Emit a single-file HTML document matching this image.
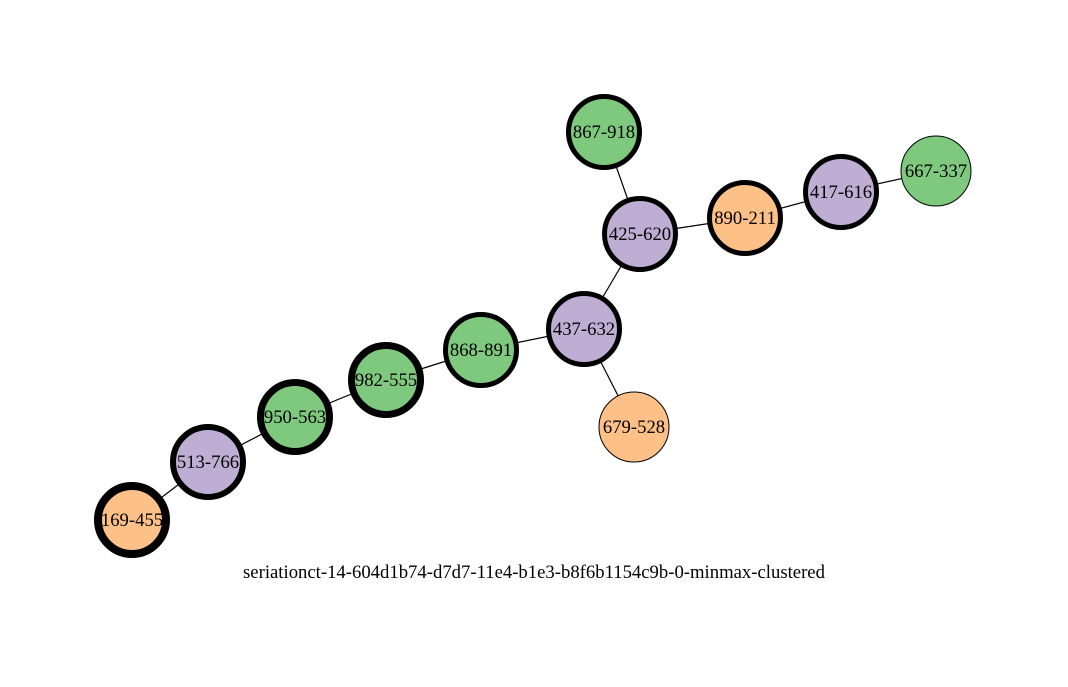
<!DOCTYPE html>
<html><head><meta charset="utf-8"><style>
html,body{margin:0;padding:0;background:#fff;}
svg text{font-family:"Liberation Serif",serif;font-size:18.7px;}
</style></head><body>
<svg id="chart" width="1068" height="682" viewBox="0 0 1068 682" xmlns="http://www.w3.org/2000/svg">
<g id="edges"></g><g id="nodes"></g>
<text x="534" y="578" text-anchor="middle">seriationct-14-604d1b74-d7d7-11e4-b1e3-b8f6b1154c9b-0-minmax-clustered</text>
</svg>
<script>
const nodeIds = ["867-918","425-620","890-211","417-616","667-337","437-632","679-528","868-891","982-555","950-563","513-766","169-455"];
const nodeX = [604,640,745,841,936,584,634,481,386,295,208,132];
const nodeY = [132,234,218,192,171,329,427,350,380,417,462,520];
const nodeGroup = ["g","p","o","p","g","p","o","g","g","g","p","o"];
const nodeStroke = [5,5,5,5,1,5,1,5,7,7,6,8];
const edgeFrom = ["867-918","425-620","890-211","417-616","425-620","437-632","437-632","868-891","982-555","950-563","513-766"];
const edgeTo = ["425-620","890-211","417-616","667-337","437-632","679-528","868-891","982-555","950-563","513-766","169-455"];
const colors = {g:"#7fc97f",p:"#beaed4",o:"#fdc086"};
const NS="http://www.w3.org/2000/svg";
const eg=document.getElementById('edges'), ng=document.getElementById('nodes');
edgeFrom.forEach((f,i)=>{
  const a=nodeIds.indexOf(f), b=nodeIds.indexOf(edgeTo[i]);
  const l=document.createElementNS(NS,'line');
  
  
  l.setAttribute('x1',nodeX[a]);l.setAttribute('y1',nodeY[a]);
  l.setAttribute('x2',nodeX[b]);l.setAttribute('y2',nodeY[b]);
  l.setAttribute('stroke','#000');l.setAttribute('stroke-width','1.2');
  eg.appendChild(l);
});
nodeIds.forEach((id,i)=>{
  const g=document.createElementNS(NS,'g');
  
  
  const c=document.createElementNS(NS,'circle');
  const sw=nodeStroke[i];
  c.setAttribute('cx',nodeX[i]);c.setAttribute('cy',nodeY[i]);
  c.setAttribute('r',sw>1?38-sw/2:35);
  c.setAttribute('fill',colors[nodeGroup[i]]);c.setAttribute('stroke','#000');c.setAttribute('stroke-width',sw);
  g.appendChild(c);
  const t=document.createElementNS(NS,'text');
  t.setAttribute('x',nodeX[i]);t.setAttribute('y',nodeY[i]+6);t.setAttribute('text-anchor','middle');
  t.textContent=id;
  g.appendChild(t);
  ng.appendChild(g);
});
</script>
</body></html>
